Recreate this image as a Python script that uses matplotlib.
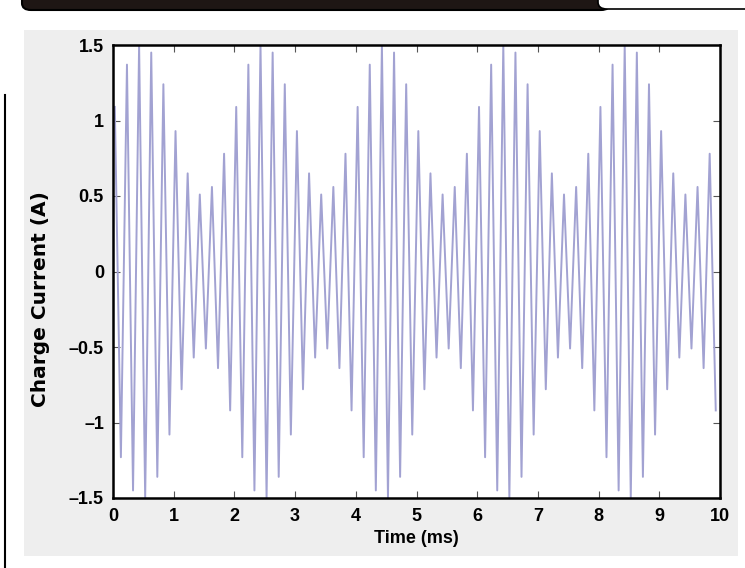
import numpy as np
import matplotlib
matplotlib.use("Agg")
import matplotlib.pyplot as plt
from matplotlib.patches import Rectangle, FancyBboxPatch
from matplotlib.lines import Line2D

# ---- data ----
# extrema of the beating waveform (A), one value per carrier cycle
peak_values = [1.09, 1.37, 1.50, 1.45, 1.24, 0.93, 0.65, 0.51, 0.56, 0.78,
               1.09, 1.37, 1.50, 1.45, 1.24, 0.93, 0.65, 0.51, 0.56, 0.78,
               1.09, 1.37, 1.50, 1.45, 1.24, 0.93, 0.65, 0.51, 0.56, 0.78,
               1.09, 1.37, 1.50, 1.45, 1.24, 0.93, 0.65, 0.51, 0.56, 0.78,
               1.09, 1.37, 1.50, 1.45, 1.24, 0.93, 0.65, 0.51, 0.56, 0.78]
trough_values = [-1.23, -1.45, -1.50, -1.36, -1.08, -0.78, -0.57, -0.51, -0.64, -0.92,
                 -1.23, -1.45, -1.50, -1.36, -1.08, -0.78, -0.57, -0.51, -0.64, -0.92,
                 -1.23, -1.45, -1.50, -1.36, -1.08, -0.78, -0.57, -0.51, -0.64, -0.92,
                 -1.23, -1.45, -1.50, -1.36, -1.08, -0.78, -0.57, -0.51, -0.64, -0.92,
                 -1.23, -1.45, -1.50, -1.36, -1.08, -0.78, -0.57, -0.51, -0.64, -0.92]
first_peak_time = 0.03   # ms
cycle_period = 0.2       # ms
x_ticks = [0, 1, 2, 3, 4, 5, 6, 7, 8, 9, 10]
y_ticks = [-1.5, -1, -0.5, 0, 0.5, 1, 1.5]
y_tick_labels = ["\u20131.5", "\u20131", "\u20130.5", "0", "0.5", "1", "1.5"]

peak_times = first_peak_time + cycle_period * np.arange(len(peak_values))
trough_times = peak_times + cycle_period / 2
t = np.empty(2 * len(peak_values))
v = np.empty(2 * len(peak_values))
t[0::2], t[1::2] = peak_times, trough_times
v[0::2], v[1::2] = peak_values, trough_values

W, H = 745, 568
fig = plt.figure(figsize=(W / 100, H / 100), dpi=100)
fig.patch.set_facecolor("white")

def fx(x):
    return x / W

def fy(y):
    return 1 - y / H

# gray panel
fig.patches.append(Rectangle((fx(24), fy(556)), fx(738) - fx(24), fy(30) - fy(556),
                             transform=fig.transFigure, facecolor="#eeeeee",
                             edgecolor="none", zorder=-5))
# header bar
fig.patches.append(FancyBboxPatch((fx(22), fy(10)), fx(610) - fx(22), fy(-20) - fy(10),
                                  boxstyle="round,pad=0,rounding_size=0.012",
                                  transform=fig.transFigure, facecolor="#1e1614",
                                  edgecolor="black", linewidth=1.5, zorder=-4))
fig.patches.append(FancyBboxPatch((fx(598), fy(9)), fx(780) - fx(598), fy(-20) - fy(9),
                                  boxstyle="round,pad=0,rounding_size=0.012",
                                  transform=fig.transFigure, facecolor="white",
                                  edgecolor="black", linewidth=1.2, zorder=-3))
# left vertical rule
fig.add_artist(Line2D([fx(5), fx(5)], [fy(95), fy(568)], transform=fig.transFigure,
                      color="black", linewidth=1.5, zorder=-3))

ax_l, ax_r, ax_t, ax_b = 113, 720, 45, 498
ax = fig.add_axes([fx(ax_l), fy(ax_b), fx(ax_r) - fx(ax_l), fy(ax_t) - fy(ax_b)])
ax.set_zorder(5)
ax.set_facecolor("white")
ax.plot(t, v, color="#a2a2d2", linewidth=1.4)
ax.set_xlim(0, 10)
ax.set_ylim(-1.5, 1.5)

tick_font = dict(family=["Liberation Sans", "DejaVu Sans"], weight="bold", size=13)
ax.set_xticks(x_ticks)
ax.set_xticklabels([str(x) for x in x_ticks], fontdict=tick_font)
ax.set_yticks(y_ticks)
ax.set_yticklabels(y_tick_labels, fontdict=tick_font)
ax.tick_params(direction="in", top=True, right=True, length=5, width=0.8,
               color="#555555")
ax.tick_params(axis="x", pad=7)
ax.tick_params(axis="y", pad=6.5)
for s in ax.spines.values():
    s.set_linewidth(1.8)
    s.set_color("black")

ax.set_xlabel("Time (ms)", family=["Liberation Sans", "DejaVu Sans"],
              weight="bold", size=13)
ax.xaxis.set_label_coords((416 - ax_l) / (ax_r - ax_l), (ax_b - 530) / (ax_b - ax_t))
ax.set_ylabel("Charge Current (A)", family=["DejaVu Sans"], weight="bold", size=14.5)
ax.yaxis.set_label_coords((50 - ax_l) / (ax_r - ax_l), (ax_b - 299) / (ax_b - ax_t))

fig.savefig("out.png", dpi=100)
